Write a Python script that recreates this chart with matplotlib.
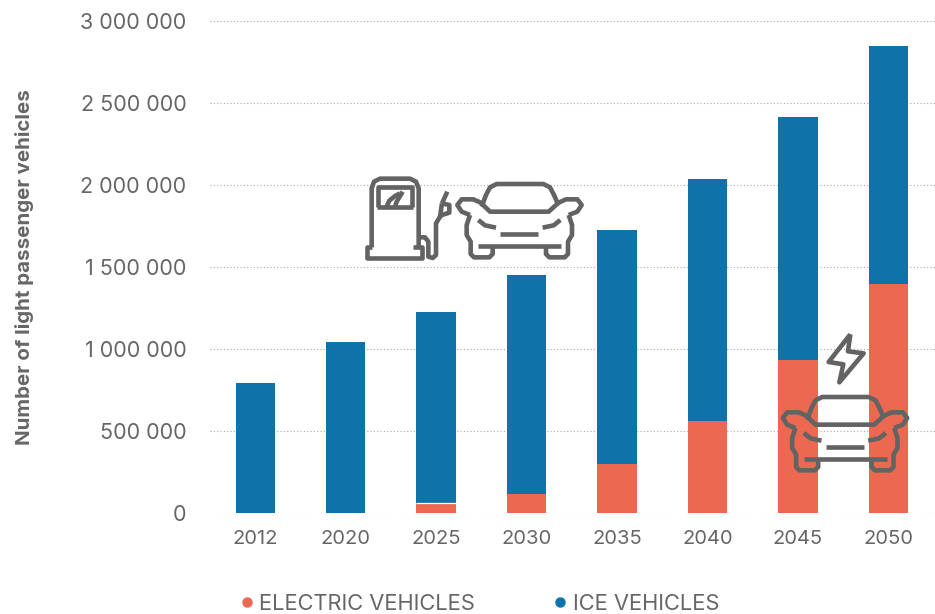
import matplotlib
matplotlib.use("Agg")
import matplotlib.pyplot as plt
from matplotlib.lines import Line2D

years = ["2012", "2020", "2025", "2030", "2035", "2040", "2045", "2050"]
electric = [0, 0, 61000, 116000, 299000, 561000, 933000, 1396000]
totals = [793000, 1043000, 1226000, 1451000, 1726000, 2037000, 2415000, 2848000]
ice = [t - e for t, e in zip(totals, electric)]
y_ticks = [0, 500000, 1000000, 1500000, 2000000, 2500000, 3000000]
y_labels = ["0", "500 000", "1 000 000", "1 500 000", "2 000 000", "2 500 000", "3 000 000"]

BLUE, RED, GREY, ICON = "#0F72A8", "#EC6851", "#666666", "#636363"
W, H = 935, 614
plt.rcParams["font.family"] = ["Inter", "DejaVu Sans"]

fig = plt.figure(figsize=(W / 100, H / 100), dpi=100)
ax = fig.add_axes([210 / W, 1 - 513 / H, 725 / W, 492 / H])
xs = range(len(years))
ax.set_axisbelow(True)
ax.bar(xs, electric, width=0.435, color=RED, linewidth=0, zorder=3, label="ELECTRIC VEHICLES")
ax.bar(xs, ice, width=0.435, bottom=electric, color=BLUE, linewidth=0, zorder=3, label="ICE VEHICLES")
ax.hlines(electric[2], 2 - 0.2175, 2 + 0.2175, color="white", lw=0.9, zorder=4)
ax.set_xlim(-0.5, 7.515)
ax.set_ylim(0, 3000000)
ax.set_xticks(list(xs), years)
ax.set_yticks(y_ticks, y_labels)
ax.yaxis.grid(True, color="#A8A8A8", linestyle=(0, (1, 2)), linewidth=0.8, zorder=0)
ax.tick_params(length=0, labelcolor=GREY)
ax.tick_params(axis="x", labelsize=14.5, pad=12.5)
ax.tick_params(axis="y", labelsize=15.5, pad=17)
for s in ax.spines.values():
    s.set_visible(False)
fig.text(25 / W, 1 - 267 / H, "Number of light passenger vehicles", rotation=90,
         ha="center", va="center", color=GREY, fontsize=14.8, fontweight="bold")

handles = [Line2D([], [], ls="", marker="o", ms=6.5, color=RED),
           Line2D([], [], ls="", marker="o", ms=6.5, color=BLUE)]
fig.legend(handles, ["ELECTRIC VEHICLES", "ICE VEHICLES"], loc="center left",
           bbox_to_anchor=(236 / W, 1 - 604 / H), ncol=2, frameon=False,
           fontsize=15.8, labelcolor=GREY, handlelength=1.0, handletextpad=0.05,
           columnspacing=3.4, borderaxespad=0, borderpad=0)

# Decorative icons drawn on a pixel-coordinate overlay
ov = fig.add_axes([0, 0, 1, 1], zorder=10)
ov.set_xlim(0, W)
ov.set_ylim(H, 0)
ov.axis("off")
ov.patch.set_alpha(0)
LW = 4.6 * 0.72


def stroke(pts, ox, oy, closed=False):
    x = [ox + p[0] / 3 for p in pts]
    y = [oy + p[1] / 3 for p in pts]
    if closed:
        x.append(x[0])
        y.append(y[0])
    ov.plot(x, y, color=ICON, lw=LW, solid_joinstyle="round", solid_capstyle="butt")


car_strokes = [
    [(395, 140), (408, 105), (420, 82), (440, 72), (580, 72), (600, 82), (612, 105), (625, 135)],
    [(360, 165), (335, 155), (322, 135), (335, 118), (370, 118), (392, 128), (420, 155),
     (596, 155), (626, 128), (648, 118), (682, 118), (695, 135), (682, 155), (656, 165)],
    [(360, 165), (350, 195), (350, 225), (362, 245), (362, 282), (372, 292), (418, 292),
     (428, 282), (428, 258)],
    [(656, 165), (666, 195), (666, 225), (654, 245), (654, 282), (644, 292), (598, 292),
     (588, 282), (588, 258)],
    [(384, 258), (634, 258)],
    [(385, 180), (405, 196), (438, 203)],
    [(631, 180), (611, 196), (578, 203)],
    [(451, 223), (565, 223)],
]


def car(ox, oy):
    for s in car_strokes:
        stroke(s, ox, oy)


car(350, 160)
car(675.5, 373)

# Fuel pump
pump = [
    [(65, 262), (65, 85), (72, 65), (90, 56), (180, 56), (198, 65), (206, 85), (206, 262)],
    [(65, 262), (52, 262), (52, 295), (216, 295), (216, 262), (190, 262)],
    [(85, 140), (85, 80), (186, 80), (186, 140)],
    [(80, 142), (190, 142)],
    [(110, 140), (118, 122), (135, 108), (150, 100)],
    [(135, 140), (140, 125), (158, 95)],
    [(206, 232), (225, 232), (235, 245), (235, 290), (248, 294), (258, 285), (258, 190),
     (270, 170), (276, 130)],
    [(276, 130), (292, 95)],
    [(276, 130), (298, 135), (298, 158), (276, 165), (270, 170)],
]
for s in pump:
    stroke(s, 350, 160)

# Lightning bolt
bolt = [(271, 43), (206, 126), (250, 133), (238, 187), (311, 100), (264, 94)]
stroke(bolt, 760, 320, closed=True)

fig.savefig("out.png", dpi=100)
